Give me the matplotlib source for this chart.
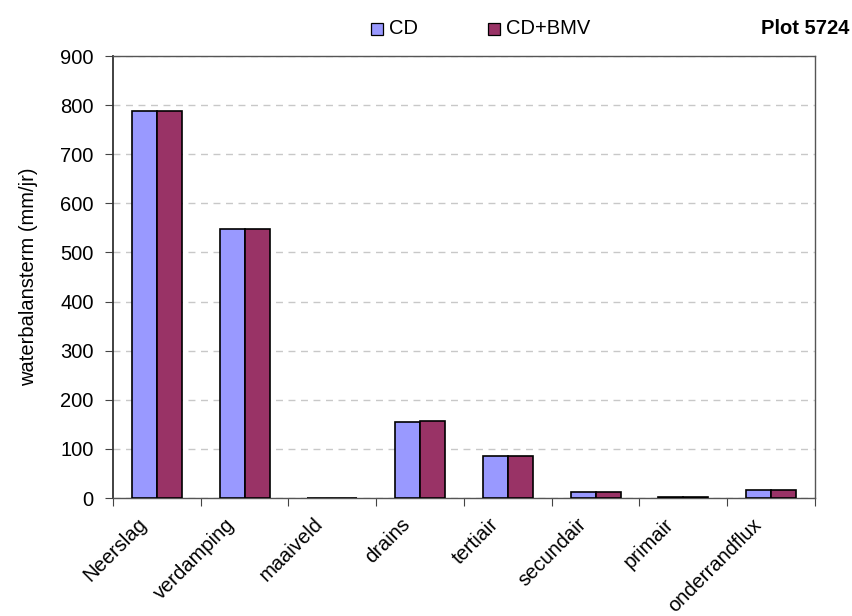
import matplotlib
matplotlib.use("Agg")
import matplotlib.pyplot as plt
import numpy as np
from matplotlib.patches import Rectangle

plt.rcParams['font.family'] = ['Liberation Sans', 'DejaVu Sans']

categories = ["Neerslag", "verdamping", "maaiveld", "drains", "tertiair",
              "secundair", "primair", "onderrandflux"]
cd = [789, 548, 0, 154, 85, 12, 2.5, 16]
cd_bmv = [789, 548, 0, 157, 85, 12, 2.5, 16]
series_names = ["CD", "CD+BMV"]
colors = ["#9999FF", "#993366"]
yticks = [0, 100, 200, 300, 400, 500, 600, 700, 800, 900]

FS = 14.5

fig = plt.figure(figsize=(8.53, 6.16), dpi=100)
ax = fig.add_axes([113 / 853, 1 - 498 / 616, (815 - 113) / 853, (498 - 56) / 616])

x = np.arange(len(categories))
w = 1 / 3.5
ax.bar(x - w / 2, cd, width=w, color=colors[0], edgecolor="black", linewidth=1.2, zorder=3)
ax.bar(x + w / 2, cd_bmv, width=w, color=colors[1], edgecolor="black", linewidth=1.2, zorder=3)

ax.set_xlim(-0.5, len(categories) - 0.5)
ax.set_ylim(0, 900)
ax.set_yticks(yticks)
ax.set_yticklabels([str(v) for v in yticks], fontsize=FS)
ax.yaxis.grid(True, linestyle=(0, (5, 4)), color="#c8c8c8", linewidth=1, zorder=0)

# category labels under the groups, tick marks at group boundaries
ax.set_xticks(np.arange(len(categories) + 1) - 0.5)
ax.set_xticklabels([])
ax.set_xticks(x - 0.22, minor=True)
ax.set_xticklabels(categories, minor=True, rotation=45, ha="right", va="top",
                   rotation_mode="anchor", fontsize=FS)
ax.tick_params(axis="x", which="minor", length=0, pad=12)
ax.tick_params(axis="x", which="major", length=6, direction="out", color="#444444")
ax.tick_params(axis="y", length=6, direction="out", color="#444444", pad=8)

for side in ["top", "right", "bottom"]:
    ax.spines[side].set_color("#555555")
    ax.spines[side].set_linewidth(1)
ax.spines["left"].set_color("#333333")
ax.spines["left"].set_linewidth(1.3)

ax.set_ylabel("waterbalansterm (mm/jr)", fontsize=FS, labelpad=16)

# legend along the top
lx = [371, 488]
for px, name, c in zip(lx, series_names, colors):
    fig.patches.append(Rectangle((px / 853, 1 - 35 / 616), 12 / 853, 12 / 616,
                                 transform=fig.transFigure, facecolor=c,
                                 edgecolor="black", linewidth=0.9))
    fig.text((px + 18) / 853, 1 - 29 / 616, name, fontsize=FS, va="center", ha="left")

fig.text(849 / 853, 1 - 29 / 616, "Plot 5724", fontsize=FS, fontweight="bold",
         va="center", ha="right")

fig.savefig("out.png", dpi=100)
